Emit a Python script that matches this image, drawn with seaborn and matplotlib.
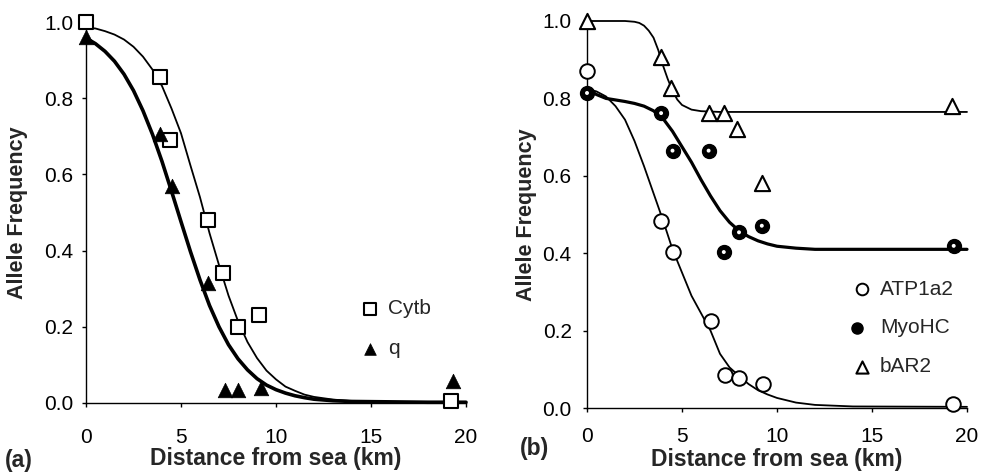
import matplotlib
matplotlib.use("Agg")
import matplotlib.pyplot as plt
from matplotlib.legend_handler import HandlerTuple
import seaborn as sns

sns.set_theme(style="ticks")
plt.rcParams['font.family'] = ['Liberation Sans', 'DejaVu Sans']

# ---------------- Panel (a) data ----------------
cytb_x = [0.0, 3.9, 4.4, 6.4, 7.2, 8.0, 9.1, 19.2]
cytb_y = [1.0, 0.855, 0.69, 0.48, 0.34, 0.20, 0.23, 0.005]
q_x = [0.0, 3.9, 4.5, 6.4, 7.3, 8.0, 9.2, 19.3]
q_y = [0.96, 0.705, 0.57, 0.315, 0.035, 0.035, 0.04, 0.058]

curve_x_a = [0, 0.5, 1, 1.5, 2, 2.5, 3, 3.5, 4, 4.5, 5, 5.5, 6, 6.5, 7, 7.5, 8, 8.5,
             9, 9.5, 10, 10.5, 11, 11.5, 12, 13, 14, 16, 18, 20]
cytb_curve = [0.985, 0.983, 0.976, 0.967, 0.954, 0.935, 0.909, 0.875, 0.832, 0.773,
              0.708, 0.623, 0.540, 0.446, 0.362, 0.282, 0.215, 0.160, 0.118, 0.085,
              0.062, 0.043, 0.032, 0.022, 0.016, 0.009, 0.005, 0.003, 0.002, 0.002]
q_curve = [0.958, 0.943, 0.923, 0.897, 0.863, 0.820, 0.767, 0.705, 0.634, 0.556,
           0.476, 0.397, 0.323, 0.256, 0.200, 0.153, 0.116, 0.087, 0.064, 0.047,
           0.035, 0.026, 0.019, 0.014, 0.010, 0.006, 0.004, 0.003, 0.002, 0.002]

# ---------------- Panel (b) data ----------------
atp_x = [0.0, 3.9, 4.5, 6.5, 7.25, 8.0, 9.25, 19.25]
atp_y = [0.87, 0.484, 0.403, 0.225, 0.085, 0.077, 0.062, 0.01]
myo_x = [0.0, 3.9, 4.5, 6.4, 7.2, 8.0, 9.2, 19.3]
myo_y = [0.814, 0.762, 0.665, 0.665, 0.403, 0.454, 0.471, 0.419]
bar_x = [0.0, 3.9, 4.4, 6.4, 7.2, 7.9, 9.2, 19.2]
bar_y = [1.0, 0.906, 0.826, 0.762, 0.762, 0.72, 0.582, 0.78]

bar_curve_x = [0, 1, 2, 2.5, 2.75, 3, 3.25, 3.5, 3.75, 4, 4.25, 4.5, 4.75, 5, 5.5,
               6, 7, 10, 15, 20]
bar_curve_y = [1.0, 1.0, 1.0, 0.998, 0.995, 0.988, 0.975, 0.957, 0.925, 0.885,
               0.85, 0.82, 0.797, 0.783, 0.771, 0.767, 0.765, 0.765, 0.765, 0.765]
myo_curve_x = [0, 0.5, 1, 1.5, 2, 2.5, 3, 3.5, 4, 4.5, 5, 5.5, 6, 6.5, 7, 7.5, 8,
               8.5, 9, 9.5, 10, 11, 12, 15, 20]
myo_curve_y = [0.825, 0.81, 0.80, 0.796, 0.792, 0.787, 0.78, 0.768, 0.748, 0.715,
               0.675, 0.635, 0.59, 0.548, 0.51, 0.48, 0.458, 0.443, 0.432, 0.424,
               0.418, 0.413, 0.41, 0.41, 0.41]
atp_curve_x = [0, 0.5, 1, 1.5, 2, 2.5, 3, 3.5, 4, 4.5, 5, 5.5, 6, 6.5, 7, 7.5, 8,
               8.5, 9, 9.5, 10, 11, 12, 14, 20]
atp_curve_y = [0.825, 0.818, 0.805, 0.78, 0.745, 0.69, 0.625, 0.555, 0.485, 0.41,
               0.35, 0.29, 0.245, 0.20, 0.14, 0.105, 0.083, 0.062, 0.046, 0.035,
               0.026, 0.014, 0.008, 0.004, 0.003]

xticks = [0, 5, 10, 15, 20]
yticks = [0.0, 0.2, 0.4, 0.6, 0.8, 1.0]
ytick_labels = ["0.0", "0.2", "0.4", "0.6", "0.8", "1.0"]

W, H = 983, 475
fig = plt.figure(figsize=(W / 100, H / 100), dpi=100)
axa = fig.add_axes([86 / W, (H - 403) / H, 380 / W, 381 / H])
axb = fig.add_axes([587 / W, (H - 408) / H, 380 / W, 387 / H])

TICK_FS = 15
LAB_FS = 16.5

def style_axes(ax, ypad, xpad):
    ax.set_xlim(0, 20)
    ax.set_ylim(0, 1)
    ax.set_xticks(xticks)
    ax.set_xticklabels([str(t) for t in xticks])
    ax.set_yticks(yticks)
    ax.set_yticklabels(ytick_labels)
    for s in ["top", "right"]:
        ax.spines[s].set_visible(False)
    for s in ["left", "bottom"]:
        ax.spines[s].set_linewidth(1.0)
        ax.spines[s].set_color("black")
    ax.tick_params(axis="both", direction="out", length=3, width=1, colors="black",
                   labelsize=TICK_FS)
    ax.tick_params(axis="y", pad=ypad)
    ax.tick_params(axis="x", pad=xpad)
    ax.set_facecolor("white")
    ax.set_xlabel("Distance from sea (km)", fontsize=LAB_FS, fontweight="bold")
    ax.set_ylabel("Allele Frequency", fontsize=15.5, fontweight="bold")

# ---------- Panel (a) ----------
sns.lineplot(x=curve_x_a, y=cytb_curve, ax=axa, color="black", linewidth=1.3,
             sort=False, estimator=None, clip_on=False)
sns.lineplot(x=curve_x_a, y=q_curve, ax=axa, color="black", linewidth=2.6,
             sort=False, estimator=None, clip_on=False)
sns.scatterplot(x=cytb_x, y=cytb_y, ax=axa, marker="s", s=110, facecolor="white",
                edgecolor="black", linewidth=1.5, zorder=4, clip_on=False, label="Cytb")
sns.scatterplot(x=q_x, y=q_y, ax=axa, marker="^", s=110, color="black",
                edgecolor="black", linewidth=0.5, zorder=4, clip_on=False, label="q")
style_axes(axa, 6, 15)
axa.yaxis.set_label_coords(-58 / 380, 0.5)
axa.xaxis.set_label_coords(0.5, (403 - 447) / 381)
axa.legend(loc="center left", bbox_to_anchor=(0.72, 0.195), frameon=False,
           fontsize=TICK_FS, handlelength=1.0, handletextpad=0.35, borderpad=0,
           labelspacing=1.0, borderaxespad=0, markerscale=0.8)

# ---------- Panel (b) ----------
sns.lineplot(x=bar_curve_x, y=bar_curve_y, ax=axb, color="black", linewidth=1.3,
             sort=False, estimator=None, clip_on=False)
sns.lineplot(x=myo_curve_x, y=myo_curve_y, ax=axb, color="black", linewidth=2.3,
             sort=False, estimator=None, clip_on=False)
sns.lineplot(x=atp_curve_x, y=atp_curve_y, ax=axb, color="black", linewidth=1.3,
             sort=False, estimator=None, clip_on=False)
sns.scatterplot(x=atp_x, y=atp_y, ax=axb, marker="o", s=110, facecolor="white",
                edgecolor="black", linewidth=1.4, zorder=4, clip_on=False)
h_atp = axb.collections[-1]
sns.scatterplot(x=myo_x, y=myo_y, ax=axb, marker="o", s=100, color="black",
                edgecolor="black", linewidth=1.0, zorder=4, clip_on=False)
h_myo = axb.collections[-1]
sns.scatterplot(x=myo_x, y=myo_y, ax=axb, marker="o", s=8, color="white",
                edgecolor="none", zorder=5, clip_on=False)
h_dot = axb.collections[-1]
sns.scatterplot(x=bar_x, y=bar_y, ax=axb, marker="^", s=120, facecolor="white",
                edgecolor="black", linewidth=1.5, zorder=4, clip_on=False)
h_bar = axb.collections[-1]
style_axes(axb, 8, 10.5)
axb.yaxis.set_label_coords(-50 / 380, 0.5)
axb.xaxis.set_label_coords(0.5, (408 - 448) / 387)
axb.legend(handles=[h_atp, (h_myo, h_dot), h_bar], labels=["ATP1a2", "MyoHC", "bAR2"],
           handler_map={tuple: HandlerTuple(ndivide=None, pad=0)},
           loc="center left", bbox_to_anchor=(0.697, 0.207), frameon=False,
           fontsize=TICK_FS, handlelength=1.0, handletextpad=0.35, borderpad=0,
           labelspacing=0.95, borderaxespad=0, markerscale=0.8)

fig.text(5 / W, (H - 460) / H, "(a)", fontsize=LAB_FS, fontweight="bold",
         ha="left", va="center")
fig.text(520 / W, (H - 448) / H, "(b)", fontsize=LAB_FS, fontweight="bold",
         ha="left", va="center")

fig.savefig("out.png", dpi=100, facecolor="white")
